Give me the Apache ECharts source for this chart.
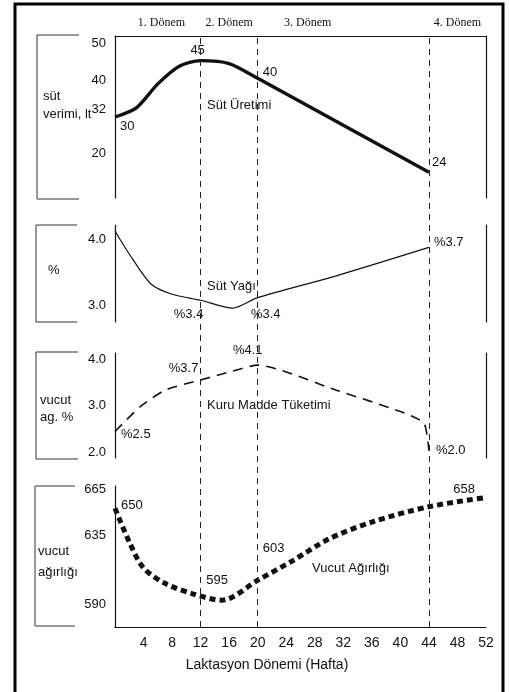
<!DOCTYPE html>
<html>
<head>
<meta charset="utf-8">
<script src="https://cdn.jsdelivr.net/npm/echarts@6/dist/echarts.min.js"></script>
<style>
  html, body { margin: 0; padding: 0; background: #fff; }
  #chart { width: 509px; height: 692px; }
</style>
</head>
<body>
<div id="chart"></div>
<script>
// laktasyon haftaları ve eğriler
const milkWeeks = [0, 3, 6, 9, 12, 16, 20, 44];
const milkValues = [30, 32.5, 39, 43.8, 45.3, 44.5, 40.5, 15];
const milkNotes = ['30', '', '', '', '45', '', '40', '24'];

const fatWeeks = [0, 2, 5, 8, 12, 16.5, 20, 31, 44];
const fatValues = [4.13, 3.78, 3.33, 3.17, 3.08, 2.96, 3.12, 3.45, 3.88];
const fatNotes = ['', '', '', '', '%3.4', '', '%3.4', '', '%3.7'];

const dmiWeeks = [0, 3.5, 7, 12, 16, 20, 31, 40, 43.3, 44];
const dmiValues = [2.44, 2.97, 3.33, 3.55, 3.72, 3.87, 3.33, 2.87, 2.62, 2.03];
const dmiNotes = ['%2.5', '', '', '%3.7', '', '%4.1', '', '', '', '%2.0'];

const weightWeeks = [0, 2, 4, 7, 11, 15, 20, 25, 30, 36, 44, 52];
const weightValues = [653, 631, 614, 604, 597, 593, 606, 619, 633, 644, 654, 660];
const weightNotes = ['650', '', '', '', '', '595', '603', '', '', '', '', '658'];

// eksen etiketleri
const milkTicks = [20, 32, 40, 50];
const fatTicks = [3.0, 4.0];
const dmiTicks = [2.0, 3.0, 4.0];
const weightTicks = [590, 635, 665];
const weekTicks = [4, 8, 12, 16, 20, 24, 28, 32, 36, 40, 44, 48, 52];

// dönem sınırları
const periodWeeks = [12, 20, 44];
const periodNames = ['1. Dönem', '2. Dönem', '3. Dönem', '4. Dönem'];

const chart = echarts.init(document.getElementById('chart'));

const INK = '#111';
const SANS = 'Liberation Sans';
const periodLabelAt = [6.5, 16, 27, 48];

// not etiketlerini noktalara bağla
function withNotes(weeks, values, notes, places) {
  let k = 0;
  return weeks.map(function (w, i) {
    const item = { value: [w, values[i]] };
    if (notes[i]) {
      item.label = Object.assign({
        show: true,
        formatter: notes[i],
        color: INK,
        fontFamily: SANS,
        fontSize: 13
      }, places[k++]);
    }
    return item;
  });
}

function leftAxis(grid, min, max, ticks, fmt) {
  return {
    type: 'value', gridIndex: grid, min: min, max: max,
    axisLine: { show: true, lineStyle: { color: INK, width: 1.2 } },
    axisTick: { show: false },
    splitLine: { show: false },
    axisLabel: {
      customValues: ticks, margin: 9, color: INK, fontFamily: SANS, fontSize: 13,
      formatter: fmt || function (v) { return String(v); }
    }
  };
}

function rightAxis(grid, min, max) {
  return {
    type: 'value', gridIndex: grid, min: min, max: max, position: 'right',
    axisLine: { show: true, lineStyle: { color: INK, width: 1.2 } },
    axisTick: { show: false }, axisLabel: { show: false }, splitLine: { show: false }
  };
}

function hiddenX(grid) {
  return {
    type: 'value', gridIndex: grid, min: 0, max: 52,
    axisLine: { show: false }, axisTick: { show: false },
    axisLabel: { show: false }, splitLine: { show: false }
  };
}

function curve(name, x, y, data, lineStyle, smooth) {
  return {
    name: name, type: 'line', xAxisIndex: x, yAxisIndex: y,
    data: data, smooth: smooth,
    symbol: 'circle', symbolSize: 0, showSymbol: true,
    itemStyle: { color: INK },
    label: { show: false },
    lineStyle: Object.assign({ color: INK }, lineStyle),
    silent: true, z: 3
  };
}

const fixed1 = function (v) { return v.toFixed(1); };

function text(x, y, str, extra) {
  return {
    type: 'text', x: x, y: y, silent: true,
    style: Object.assign({
      text: str, fill: INK, font: '13px "Liberation Sans"', textVerticalAlign: 'middle'
    }, extra || {})
  };
}

function bracket(x0, x1, y0, y1) {
  return {
    type: 'polyline', silent: true,
    shape: { points: [[x1, y0], [x0, y0], [x0, y1], [x1, y1]] },
    style: { stroke: '#333', lineWidth: 1, fill: null }
  };
}

const option = {
  animation: false,
  backgroundColor: '#fff',
  grid: [
    { left: 115, width: 371, top: 36, height: 162 },
    { left: 115, width: 371, top: 225, height: 97 },
    { left: 115, width: 371, top: 353, height: 105 },
    { left: 115, width: 371, top: 486, height: 141 },
    { left: 115, width: 371, top: 36, height: 591 }
  ],
  xAxis: [
    // üst çerçeve çizgisi
    {
      type: 'value', gridIndex: 0, min: 0, max: 52, position: 'top',
      axisLine: { show: true, lineStyle: { color: INK, width: 1.2 } },
      axisTick: { show: false }, axisLabel: { show: false }, splitLine: { show: false }
    },
    hiddenX(1),
    hiddenX(2),
    {
      type: 'value', gridIndex: 3, min: 0, max: 52,
      axisLine: { show: true, lineStyle: { color: INK, width: 1.2 } },
      axisTick: { show: false }, splitLine: { show: false },
      axisLabel: { customValues: weekTicks, margin: 9, color: INK, fontFamily: SANS, fontSize: 14 }
    },
    // dönem başlıkları
    {
      type: 'value', gridIndex: 4, min: 0, max: 52, position: 'top',
      axisLine: { show: false }, axisTick: { show: false }, splitLine: { show: false },
      axisLabel: {
        customValues: periodLabelAt, margin: 7, color: INK,
        fontFamily: 'Liberation Serif', fontSize: 12,
        formatter: function (v) { return periodNames[periodLabelAt.indexOf(v)]; }
      }
    }
  ],
  yAxis: [
    leftAxis(0, 8, 52, milkTicks),
    rightAxis(0, 8, 52),
    leftAxis(1, 2.75, 4.22, fatTicks, fixed1),
    rightAxis(1, 2.75, 4.22),
    leftAxis(2, 1.87, 4.13, dmiTicks, fixed1),
    rightAxis(2, 1.87, 4.13),
    leftAxis(3, 575.5, 667.5, weightTicks),
    { type: 'value', gridIndex: 4, min: 0, max: 1, show: false }
  ],
  series: [
    curve('Süt Üretimi', 0, 0, withNotes(milkWeeks, milkValues, milkNotes, [
      { position: 'right', distance: 5, offset: [0, 9] },
      { position: 'top', distance: 4, offset: [-3, 0] },
      { position: 'right', distance: 5, offset: [0, -6] },
      { position: 'right', distance: 3, offset: [0, -10] }
    ]), { width: 3.4 }, 0.25),
    curve('Süt Yağı', 1, 2, withNotes(fatWeeks, fatValues, fatNotes, [
      { position: 'bottom', distance: 8, offset: [-12, 0] },
      { position: 'bottom', distance: 10, offset: [8, 0] },
      { position: 'right', distance: 5, offset: [0, -5] }
    ]), { width: 1.2 }, 0.25),
    curve('Kuru Madde Tüketimi', 2, 4, withNotes(dmiWeeks, dmiValues, dmiNotes, [
      { position: 'right', distance: 6, offset: [0, 3] },
      { position: 'top', distance: 5, offset: [-17, 0] },
      { position: 'top', distance: 8, offset: [-10, 0] },
      { position: 'right', distance: 7 }
    ]), { width: 1.6, type: [10, 7] }, 0.2),
    curve('Vucut Ağırlığı', 3, 6, withNotes(weightWeeks, weightValues, weightNotes, [
      { position: 'right', distance: 6, offset: [0, -3] },
      { position: 'top', distance: 13, offset: [-5, 0] },
      { position: 'right', distance: 5, offset: [0, -32] },
      { position: 'left', distance: 11, offset: [0, -8] }
    ]), { width: 5, type: [6, 4] }, 0.3),
    // dönem sınırı kesikli çizgiler
    {
      type: 'line', xAxisIndex: 4, yAxisIndex: 7, data: [], silent: true,
      markLine: {
        silent: true, symbol: 'none', label: { show: false },
        lineStyle: { color: '#222', width: 1, type: [6, 5] },
        data: periodWeeks.map(function (w) { return { xAxis: w }; })
      }
    }
  ],
  graphic: [
    // dış çerçeve
    {
      type: 'rect', silent: true,
      shape: { x: 15, y: 4, width: 488, height: 700 },
      style: { stroke: '#000', lineWidth: 3, fill: null }
    },
    bracket(37, 79, 35, 199),
    bracket(36, 77, 225, 322),
    bracket(36, 78, 352, 459),
    bracket(35, 75, 486, 626),
    text(43, 96, 'süt'),
    text(43, 114, 'verimi, lt'),
    text(48, 270, '%'),
    text(40, 400, 'vucut'),
    text(40, 417, 'ag. %'),
    text(38, 551, 'vucut'),
    text(38, 572, 'ağırlığı'),
    text(207, 105, 'Süt Üretimi'),
    text(207, 286, 'Süt Yağı'),
    text(207, 405, 'Kuru Madde Tüketimi'),
    text(312, 568, 'Vucut Ağırlığı'),
    text(267, 665, 'Laktasyon Dönemi (Hafta)', { textAlign: 'center', font: '14px "Liberation Sans"' })
  ]
};

chart.setOption(option);
</script>
</body>
</html>
